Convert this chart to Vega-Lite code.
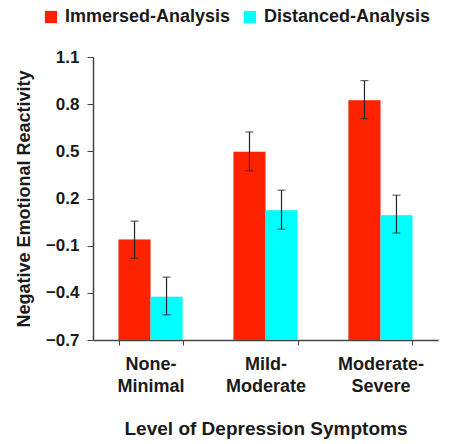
{
  "$schema": "https://vega.github.io/schema/vega-lite/v6.json",
  "width": 345,
  "height": 283,
  "autosize": {"type": "none"},
  "padding": {"left": 93, "top": 57, "right": 12, "bottom": 104},
  "background": "white",
  "config": {
    "view": {"stroke": null},
    "font": "Liberation Sans",
    "axis": {"labelFont": "Liberation Sans", "titleFont": "Liberation Sans", "labelFontWeight": "bold", "titleFontWeight": "bold", "labelColor": "#1a1a1a", "titleColor": "#1a1a1a", "domainColor": "#444", "tickColor": "#444", "grid": false}
  },
  "data": {
    "values": [
      {"level": "None-Minimal", "condition": "Immersed-Analysis", "value": -0.06, "lo": -0.18, "hi": 0.056},
      {"level": "None-Minimal", "condition": "Distanced-Analysis", "value": -0.425, "lo": -0.54, "hi": -0.30},
      {"level": "Mild-Moderate", "condition": "Immersed-Analysis", "value": 0.497, "lo": 0.376, "hi": 0.623},
      {"level": "Mild-Moderate", "condition": "Distanced-Analysis", "value": 0.126, "lo": 0.005, "hi": 0.253},
      {"level": "Moderate-Severe", "condition": "Immersed-Analysis", "value": 0.825, "lo": 0.709, "hi": 0.95},
      {"level": "Moderate-Severe", "condition": "Distanced-Analysis", "value": 0.094, "lo": -0.02, "hi": 0.221}
    ]
  },
  "encoding": {
    "x": {
      "field": "level", "type": "nominal", "sort": ["None-Minimal", "Mild-Moderate", "Moderate-Severe"],
      "scale": {"paddingInner": 0.443, "paddingOuter": 0.222},
      "axis": {
        "title": "Level of Depression Symptoms", "titleFontSize": 19, "titlePadding": 24,
        "labelAngle": 0, "labelFontSize": 18, "labelPadding": 10, "labelLineHeight": 22,
        "labelExpr": "indexof(datum.label,'-') > 0 ? [split(datum.label,'-')[0] + '-', split(datum.label,'-')[1]] : ''",
        "tickBand": "extent", "tickSize": 5, "domainWidth": 1.5
      }
    },
    "xOffset": {"field": "condition", "type": "nominal", "sort": ["Immersed-Analysis", "Distanced-Analysis"], "scale": {"paddingInner": 0, "paddingOuter": 0}}
  },
  "layer": [
    {
      "mark": {"type": "bar", "color": "#d6d6d6", "xOffset": 3},
      "encoding": {
        "y": {"field": "value", "type": "quantitative"},
        "y2": {"datum": -0.7}
      }
    },
    {
      "mark": {"type": "bar"},
      "encoding": {
        "y": {
          "field": "value", "type": "quantitative",
          "scale": {"domain": [-0.7, 1.1], "zero": false, "nice": false},
          "axis": {"title": "Negative Emotional Reactivity", "titleFontSize": 18, "titlePadding": 12,
                   "values": [-0.7, -0.4, -0.1, 0.2, 0.5, 0.8, 1.1], "format": ".1f", "labelFontSize": 17, "labelPadding": 8, "tickSize": 6, "domainWidth": 1.5}
        },
        "y2": {"datum": -0.7},
        "color": {
          "field": "condition", "type": "nominal",
          "scale": {"domain": ["Immersed-Analysis", "Distanced-Analysis"], "range": ["#ff2200", "#00ffff"]},
          "legend": {"title": null, "orient": "none", "direction": "horizontal", "legendX": -51, "legendY": -49,
                     "symbolType": "square", "symbolSize": 150, "symbolStrokeWidth": 0, "labelFontSize": 18, "labelFontWeight": "bold", "labelFont": "Liberation Sans", "labelColor": "#1a1a1a", "columnPadding": 10, "labelOffset": 5, "labelLimit": 300}
        }
      }
    },
    {
      "mark": {"type": "rule", "color": "#222", "strokeWidth": 1.2},
      "encoding": {"y": {"field": "lo", "type": "quantitative"}, "y2": {"field": "hi"}}
    },
    {
      "mark": {"type": "tick", "color": "#222", "size": 8, "thickness": 1.2},
      "encoding": {"y": {"field": "lo", "type": "quantitative"}}
    },
    {
      "mark": {"type": "tick", "color": "#222", "size": 8, "thickness": 1.2},
      "encoding": {"y": {"field": "hi", "type": "quantitative"}}
    }
  ]
}
